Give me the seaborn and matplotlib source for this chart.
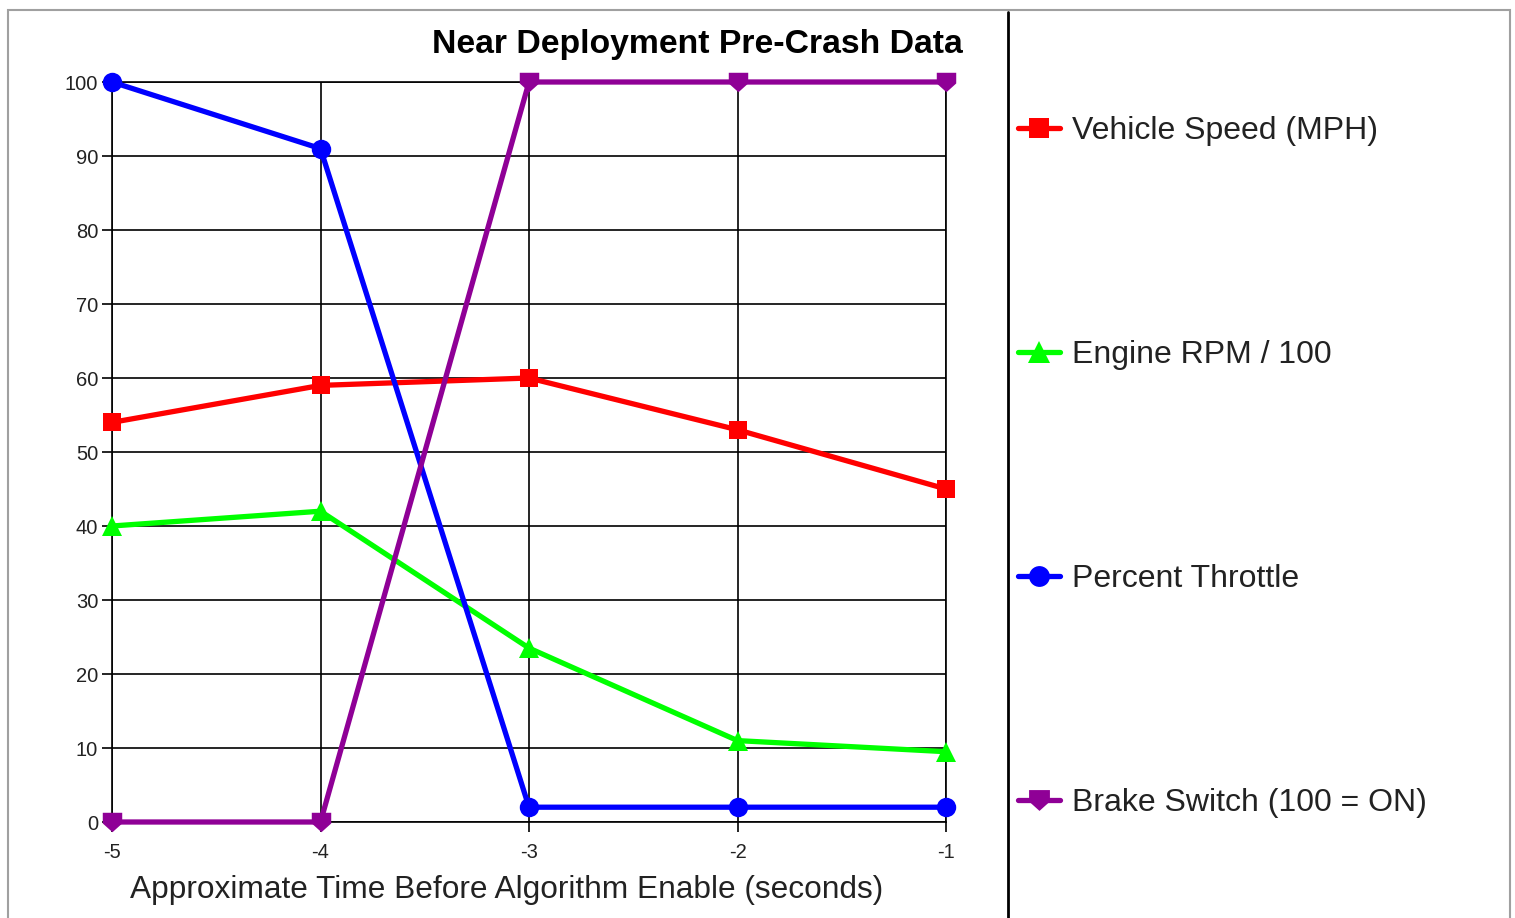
import numpy as np
import pandas as pd
import matplotlib
matplotlib.use("Agg")
import matplotlib.pyplot as plt
import seaborn as sns
from matplotlib.path import Path
from matplotlib.lines import Line2D
from matplotlib.patches import Rectangle

sns.set_style("white")
plt.rcParams['font.family'] = ['Liberation Sans', 'DejaVu Sans']

time_s = [-5, -4, -3, -2, -1]
vehicle_speed = [54, 59, 60, 53, 45]
engine_rpm = [40, 42, 23.5, 11, 9.5]
throttle = [100, 91, 2, 2, 2]
brake = [0, 0, 100, 100, 100]
series_names = ["Vehicle Speed (MPH)", "Engine RPM / 100", "Percent Throttle", "Brake Switch (100 = ON)"]
y_ticks = [0, 10, 20, 30, 40, 50, 60, 70, 80, 90, 100]
x_ticks = [-5, -4, -3, -2, -1]

brake_marker = Path([(-1, 1), (1, 1), (1, -0.1), (0, -1), (-1, -0.1), (-1, 1)],
                    [Path.MOVETO, Path.LINETO, Path.LINETO, Path.LINETO, Path.LINETO, Path.CLOSEPOLY])

styles = [
    dict(color="#FF0000", marker="s", ms=13),
    dict(color="#00FF00", marker="^", ms=15),
    dict(color="#0000FF", marker="o", ms=14),
    dict(color="#8F0096", marker=brake_marker, ms=14),
]
values = [vehicle_speed, engine_rpm, throttle, brake]

fig = plt.figure(figsize=(15.15, 9.18), dpi=100)
W, H = 1515, 918
ax = fig.add_axes([112 / W, 1 - 822 / H, (946 - 112) / W, (822 - 82) / H])

handles = []
for name, vals, st in zip(series_names, values, styles):
    df = pd.DataFrame({"t": time_s, "v": vals})
    sns.lineplot(data=df, x="t", y="v", ax=ax, color=st["color"], linewidth=3.8,
                 marker=st["marker"], markersize=st["ms"], markeredgewidth=0,
                 markerfacecolor=st["color"], clip_on=False, zorder=5)
    handles.append(Line2D([0], [0], color=st["color"], linewidth=3.8, marker=st["marker"],
                          markersize=st["ms"] + 1, markeredgewidth=0, label=name))

ax.set_xlim(-5, -1)
ax.set_ylim(0, 100)
ax.set_xticks(x_ticks)
ax.set_yticks(y_ticks)
ax.set_xticklabels([str(t) for t in x_ticks])
ax.set_yticklabels([str(t) for t in y_ticks])
ax.grid(True, color="black", linewidth=1.2)
for s in ax.spines.values():
    s.set_color("black")
    s.set_linewidth(1.2)
ax.tick_params(axis="y", direction="out", length=7, width=1.2, color="black",
               labelsize=14.5, labelcolor="#222222", pad=3, left=True)
ax.tick_params(axis="x", direction="out", length=7, width=1.2, color="black",
               labelsize=14.5, labelcolor="#222222", pad=8, bottom=True)
ax.set_xlabel("")
ax.set_ylabel("")

fig.text(963 / W, 1 - 44 / H, "Near Deployment Pre-Crash Data", ha="right", va="center",
         fontsize=24.3, fontweight="bold", color="black")
fig.text(507 / W, 1 - 890 / H, "Approximate Time Before Algorithm Enable (seconds)",
         ha="center", va="center", fontsize=22.8, color="#222222")

leg = fig.legend(handles=handles, loc="upper left", bbox_to_anchor=(1018 / W, 1 - 116 / H),
                 frameon=False, fontsize=23, labelspacing=6.07, handlelength=1.3,
                 handletextpad=0.4, borderaxespad=0, borderpad=0)
for t in leg.get_texts():
    t.set_color("#222222")

fig.add_artist(Rectangle((8 / W, -0.01), (1510 - 8) / W, 1 - 10 / H + 0.01,
                         transform=fig.transFigure, fill=False, edgecolor="#A0A0A0", linewidth=1.5))
fig.add_artist(Line2D([1008 / W, 1008 / W], [0, 1 - 12 / H], transform=fig.transFigure,
                      color="black", linewidth=2))

fig.savefig("out.png", dpi=100)
